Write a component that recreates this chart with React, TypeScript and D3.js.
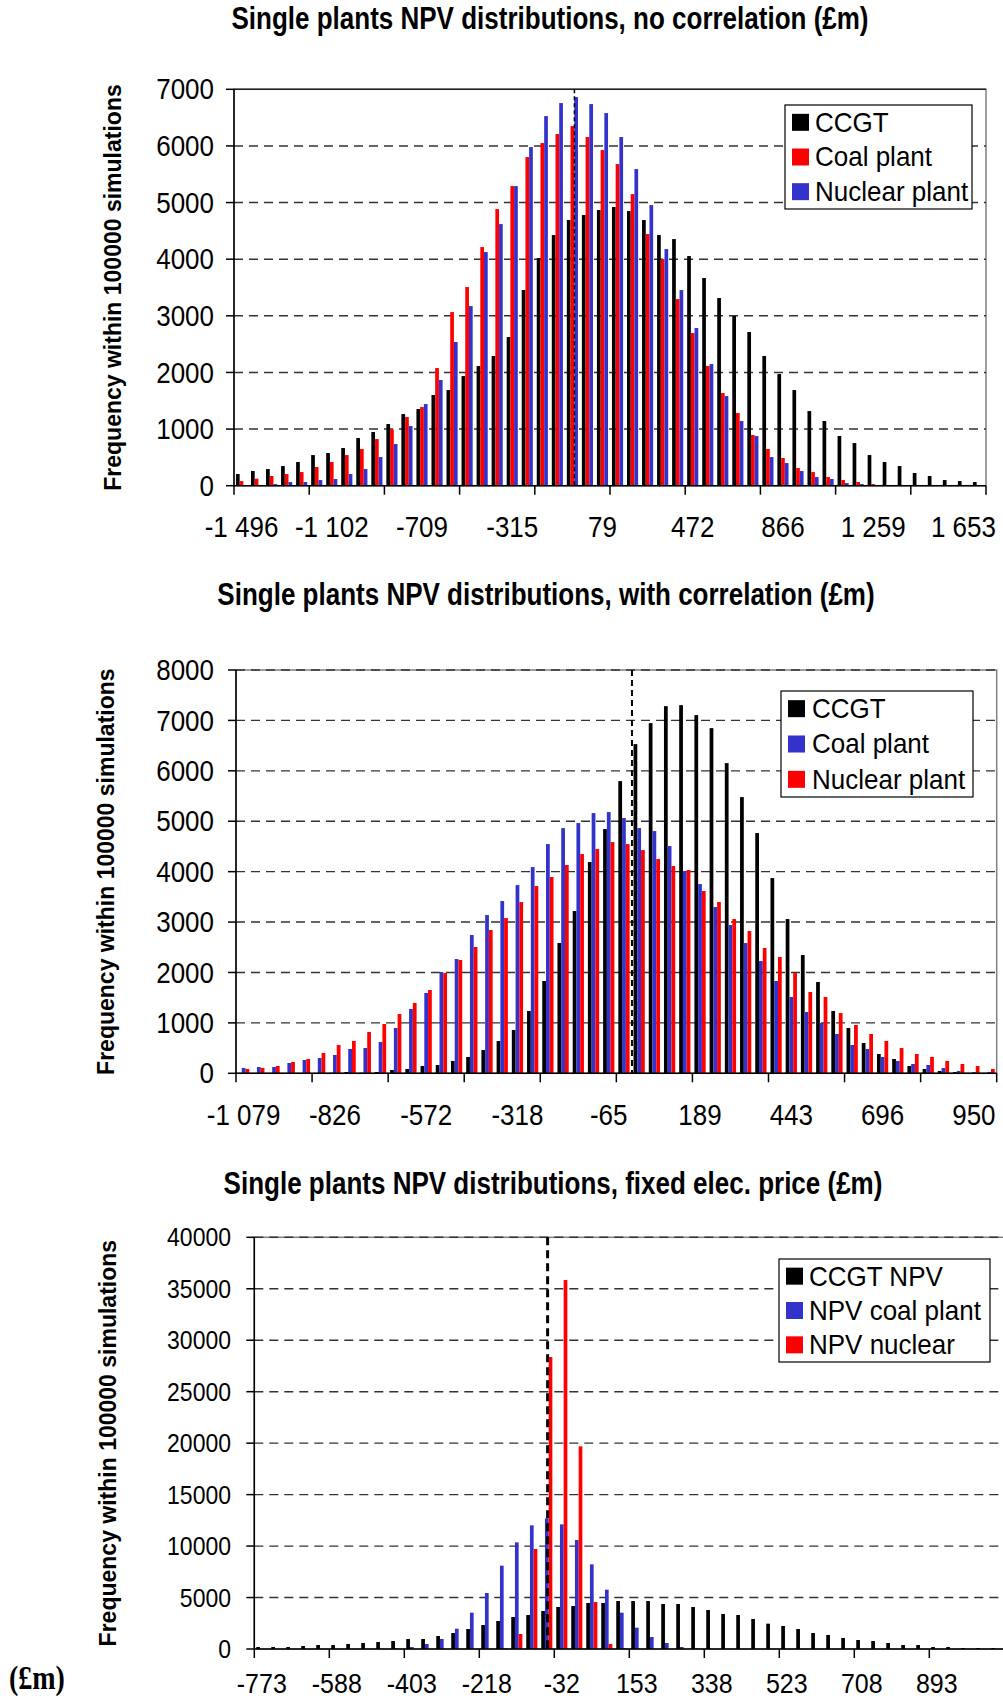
import React from 'react';
import * as d3 from 'd3';

const W = 1003;
const H = 1701;
const FONT = '"Liberation Sans", Arial, sans-serif';

const BLACK = '#000000';
const RED = '#FF0000';
const BLUE = '#3333CC';

// ---- Panel 1: no correlation (bins of ~65.6 £m starting at -1496) ----
const noCorrStart = -1496;
const noCorrStep = 65.6;
const noCorrTickLabels = ['-1 496', '-1 102', '-709', '-315', '79', '472', '866', '1 259', '1 653'];
const noCorrCCGT = [206, 259, 294, 347, 418, 541, 577, 665, 842, 948, 1089, 1265, 1354, 1601, 1689, 1936, 2113, 2290, 2625, 3455, 4020, 4426, 4691, 4779, 4868, 4921, 4850, 4691, 4426, 4355, 4055, 3667, 3314, 2996, 2713, 2290, 1972, 1689, 1318, 1142, 877, 753, 541, 418, 347, 224, 171, 100, 82, 65];
const noCorrCoal = [82, 124, 171, 206, 241, 330, 418, 541, 647, 824, 995, 1212, 1389, 2078, 3066, 3508, 4214, 4885, 5291, 5803, 6051, 6210, 6351, 6157, 5927, 5680, 5150, 4444, 4002, 3296, 2696, 2113, 1636, 1283, 895, 647, 489, 312, 241, 153, 100, 65, 29, 6, 2, 1, 0, 0, 0, 0];
const noCorrNuclear = [3, 5, 29, 65, 65, 100, 118, 206, 294, 506, 736, 1054, 1442, 1866, 2537, 3172, 4126, 4620, 5291, 5980, 6527, 6757, 6863, 6739, 6580, 6157, 5591, 4956, 4179, 3455, 2784, 2148, 1583, 1142, 877, 506, 400, 259, 153, 118, 47, 29, 6, 3, 1, 0, 0, 0, 0, 0];
const noCorrMarker = -44;

// ---- Panel 2: with correlation (bins of ~42.3 £m starting at -1079) ----
const corrStart = -1079;
const corrStep = 42.27;
const corrTickLabels = ['-1 079', '-826', '-572', '-318', '-65', '189', '443', '696', '950'];
const corrCCGT = [0, 0, 0, 0, 0, 5, 10, 26, 10, 26, 66, 86, 145, 165, 245, 324, 463, 641, 859, 1236, 1831, 2584, 3219, 4190, 4845, 5796, 6530, 6946, 7283, 7303, 7105, 6847, 6153, 5479, 4765, 3873, 3060, 2346, 1811, 1236, 899, 601, 383, 284, 145, 86, 46, 26, 5, 0];
const corrCoal = [106, 126, 126, 205, 264, 304, 364, 482, 502, 621, 899, 1276, 1593, 2009, 2267, 2743, 3139, 3417, 3734, 4091, 4547, 4864, 4964, 5162, 5182, 5063, 4864, 4805, 4508, 4012, 3754, 3298, 2941, 2584, 2227, 1831, 1514, 1216, 998, 780, 562, 482, 324, 245, 185, 165, 106, 46, 26, 26];
const corrNuclear = [86, 106, 145, 225, 284, 403, 562, 641, 820, 978, 1176, 1395, 1652, 1989, 2247, 2505, 2842, 3080, 3397, 3714, 3893, 4131, 4349, 4448, 4587, 4547, 4428, 4250, 4111, 4032, 3615, 3397, 3060, 2822, 2485, 2307, 1989, 1613, 1514, 1196, 958, 780, 641, 502, 383, 324, 245, 185, 145, 86];
const corrMarker = 0;

// ---- Panel 3: fixed electricity price (bins of 37 £m starting at -773) ----
const fixedStart = -773;
const fixedStep = 37;
const fixedTickLabels = ['-773', '-588', '-403', '-218', '-32', '153', '338', '523', '708', '893'];
const fixedCCGT = [194, 194, 194, 291, 389, 389, 486, 583, 680, 777, 971, 971, 1263, 1554, 1943, 2332, 2720, 3109, 3303, 3692, 4080, 4177, 4469, 4469, 4663, 4663, 4663, 4372, 4372, 4080, 3789, 3400, 3303, 2915, 2461, 2235, 1943, 1554, 1360, 1069, 874, 777, 583, 389, 389, 194, 194, 97, 97, 97];
const fixedCoal = [0, 0, 0, 0, 0, 0, 0, 0, 30, 60, 194, 486, 971, 1975, 3530, 5440, 8096, 10363, 12015, 12694, 12111, 10589, 8225, 5764, 3530, 2073, 1166, 583, 194, 65, 30, 0, 0, 0, 0, 0, 0, 0, 0, 0, 0, 0, 0, 0, 0, 0, 0, 0, 0, 0];
const fixedNuclear = [0, 0, 0, 0, 0, 0, 0, 0, 0, 0, 0, 0, 0, 0, 0, 0, 65, 1457, 9715, 28368, 35848, 19689, 4566, 486, 65, 0, 0, 0, 0, 0, 0, 0, 0, 0, 0, 0, 0, 0, 0, 0, 0, 0, 0, 0, 0, 0, 0, 0, 0, 0];
const fixedMarker = -68;

const Y_TITLE = 'Frequency within 100000 simulations';

type Series = { name: string; color: string; values: number[] };

type PanelProps = {
  title: string;
  titleX: number;
  titleY: number;
  plot: { left: number; top: number; right: number; bottom: number };
  yMax: number;
  yStep: number;
  series: Series[];
  binStart: number;
  binStep: number;
  tickLabels: string[];
  labelEvery: number;
  tickEvery: number;
  marker: number;
  markerWidth: number;
  markerDash: string;
  legend: { x: number; y: number; w: number; h: number; textX: number };
  yTickSize: number;
  xTickSize: number;
  xTickStretch: number;
  yTickRight: number;
  xLabelY: number;
  yTitleX: number;
  topBorderSolid: boolean;
};

// Text drawn slightly taller than wide, as in the original printout.
function TallText(props: {
  x: number;
  y: number;
  sy: number;
  anchor?: 'start' | 'middle' | 'end';
  baseline?: string;
  size: number;
  weight?: string;
  family?: string;
  children: React.ReactNode;
}) {
  return (
    <text
      transform={`translate(${props.x},${props.y}) scale(1,${props.sy})`}
      textAnchor={props.anchor ?? 'start'}
      dominantBaseline={props.baseline ?? 'auto'}
      fontFamily={props.family ?? FONT}
      fontWeight={props.weight ?? 'normal'}
      fontSize={props.size}
    >
      {props.children}
    </text>
  );
}

function Panel(p: PanelProps) {
  const n = p.series[0].values.length;
  const cats = d3.range(n);
  const x = d3
    .scaleBand<number>()
    .domain(cats)
    .range([p.plot.left, p.plot.right])
    .paddingInner(0.26)
    .paddingOuter(0.13);
  const inner = d3
    .scaleBand<string>()
    .domain(p.series.map((s) => s.name))
    .range([0, x.bandwidth()]);
  const y = d3.scaleLinear().domain([0, p.yMax]).range([p.plot.bottom, p.plot.top]);
  const step = x.step();
  const centre = (i: number) => (x(i) as number) + x.bandwidth() / 2;
  const valueX = d3
    .scaleLinear()
    .domain([p.binStart, p.binStart + p.binStep * (n - 1)])
    .range([centre(0), centre(n - 1)]);
  const yTicks = d3.range(0, p.yMax + 1, p.yStep);
  const tickIdx = d3.range(0, n + 1, p.tickEvery);
  const boundary = (i: number) => p.plot.left + i * step;
  const plotH = p.plot.bottom - p.plot.top;
  const legendRowH = p.legend.h / p.series.length;

  return (
    <g>
      <TallText x={p.titleX} y={p.titleY} sy={1.22} anchor="middle" size={26} weight="bold">
        {p.title}
      </TallText>

      {/* plot frame */}
      <rect
        x={p.plot.left}
        y={p.plot.top}
        width={p.plot.right - p.plot.left}
        height={plotH}
        fill="none"
        stroke="#808080"
        strokeWidth={1.5}
      />
      {p.topBorderSolid && (
        <line x1={p.plot.left} x2={p.plot.right} y1={p.plot.top} y2={p.plot.top} stroke="#222" strokeWidth={1.5} />
      )}

      {/* horizontal gridlines */}
      {yTicks
        .filter((t) => t > 0 && !(p.topBorderSolid && t === p.yMax))
        .map((t) => (
          <line
            key={'g' + t}
            x1={p.plot.left}
            x2={p.plot.right}
            y1={y(t)}
            y2={y(t)}
            stroke="#333"
            strokeWidth={1.4}
            strokeDasharray="9,6"
          />
        ))}

      {/* bars */}
      {p.series.map((s) => (
        <g key={s.name} fill={s.color}>
          {s.values.map((v, i) =>
            v > 0 ? (
              <rect
                key={i}
                x={(x(i) as number) + (inner(s.name) as number)}
                y={y(v)}
                width={inner.bandwidth()}
                height={y(0) - y(v)}
              />
            ) : null
          )}
        </g>
      ))}

      {/* reference line */}
      <line
        x1={valueX(p.marker)}
        x2={valueX(p.marker)}
        y1={p.plot.top}
        y2={p.plot.bottom}
        stroke="#000"
        strokeWidth={p.markerWidth}
        strokeDasharray={p.markerDash}
      />

      {/* y axis */}
      <line x1={p.plot.left} x2={p.plot.left} y1={p.plot.top} y2={p.plot.bottom} stroke="#000" strokeWidth={1.5} />
      {yTicks.map((t) => (
        <g key={'yt' + t}>
          <line x1={p.plot.left - 8} x2={p.plot.left} y1={y(t)} y2={y(t)} stroke="#000" strokeWidth={1.5} />
          <TallText x={p.yTickRight} y={y(t)} sy={1.15} anchor="end" baseline="central" size={p.yTickSize}>
            {t}
          </TallText>
        </g>
      ))}
      <text
        transform={`translate(${p.yTitleX},${(p.plot.top + p.plot.bottom) / 2}) rotate(-90)`}
        textAnchor="middle"
        dominantBaseline="central"
        fontFamily={FONT}
        fontWeight="bold"
        fontSize={23}
      >
        {Y_TITLE}
      </text>

      {/* x axis */}
      <line x1={p.plot.left} x2={p.plot.right} y1={p.plot.bottom} y2={p.plot.bottom} stroke="#000" strokeWidth={1.5} />
      {tickIdx.map((i) => (
        <line
          key={'xt' + i}
          x1={boundary(i)}
          x2={boundary(i)}
          y1={p.plot.bottom}
          y2={p.plot.bottom + 9}
          stroke="#000"
          strokeWidth={1.5}
        />
      ))}
      {p.tickLabels.map((lab, k) => (
        <TallText
          key={'xl' + k}
          x={centre(k * p.labelEvery)}
          y={p.xLabelY}
          sy={p.xTickStretch}
          anchor="middle"
          size={p.xTickSize}
        >
          {lab}
        </TallText>
      ))}

      {/* legend */}
      <rect
        x={p.legend.x}
        y={p.legend.y}
        width={p.legend.w}
        height={p.legend.h}
        fill="#fff"
        stroke="#000"
        strokeWidth={1.2}
      />
      {p.series.map((s, k) => {
        const cy = p.legend.y + legendRowH * (k + 0.5);
        return (
          <g key={'lg' + s.name}>
            <rect x={p.legend.x + 7} y={cy - 8.5} width={17} height={17} fill={s.color} />
            <TallText x={p.legend.textX} y={cy} sy={1.08} baseline="central" size={26}>
              {s.name}
            </TallText>
          </g>
        );
      })}
    </g>
  );
}

export default function App() {
  return (
    <svg
      width={W}
      height={H}
      viewBox={`0 0 ${W} ${H}`}
      style={{ position: 'absolute', left: 0, top: 0, display: 'block', background: '#fff' }}
    >
      <rect x={0} y={0} width={W} height={H} fill="#fff" />
      <Panel
        title="Single plants NPV distributions, no correlation (£m)"
        titleX={550}
        titleY={29}
        plot={{ left: 234, top: 89.3, right: 986, bottom: 485.7 }}
        yMax={7000}
        yStep={1000}
        series={[
          { name: 'CCGT', color: BLACK, values: noCorrCCGT },
          { name: 'Coal plant', color: RED, values: noCorrCoal },
          { name: 'Nuclear plant', color: BLUE, values: noCorrNuclear },
        ]}
        binStart={noCorrStart}
        binStep={noCorrStep}
        tickLabels={noCorrTickLabels}
        labelEvery={6}
        tickEvery={5}
        marker={noCorrMarker}
        markerWidth={1.5}
        markerDash="4,3"
        legend={{ x: 785, y: 105, w: 187, h: 104, textX: 815 }}
        yTickSize={26}
        xTickSize={26}
        xTickStretch={1.15}
        yTickRight={214}
        xLabelY={537}
        yTitleX={113}
        topBorderSolid={true}
      />
      <Panel
        title="Single plants NPV distributions, with correlation (£m)"
        titleX={546}
        titleY={605}
        plot={{ left: 236, top: 670, right: 996.7, bottom: 1073.3 }}
        yMax={8000}
        yStep={1000}
        series={[
          { name: 'CCGT', color: BLACK, values: corrCCGT },
          { name: 'Coal plant', color: BLUE, values: corrCoal },
          { name: 'Nuclear plant', color: RED, values: corrNuclear },
        ]}
        binStart={corrStart}
        binStep={corrStep}
        tickLabels={corrTickLabels}
        labelEvery={6}
        tickEvery={5}
        marker={corrMarker}
        markerWidth={2}
        markerDash="6,4"
        legend={{ x: 781, y: 691, w: 192, h: 106, textX: 812 }}
        yTickSize={26}
        xTickSize={26}
        xTickStretch={1.15}
        yTickRight={214}
        xLabelY={1125}
        yTitleX={106}
        topBorderSolid={false}
      />
      <Panel
        title="Single plants NPV distributions, fixed elec. price (£m)"
        titleX={553}
        titleY={1194}
        plot={{ left: 254.3, top: 1237.3, right: 1004.3, bottom: 1649 }}
        yMax={40000}
        yStep={5000}
        series={[
          { name: 'CCGT NPV', color: BLACK, values: fixedCCGT },
          { name: 'NPV coal plant', color: BLUE, values: fixedCoal },
          { name: 'NPV nuclear', color: RED, values: fixedNuclear },
        ]}
        binStart={fixedStart}
        binStep={fixedStep}
        tickLabels={fixedTickLabels}
        labelEvery={5}
        tickEvery={5}
        marker={fixedMarker}
        markerWidth={3}
        markerDash="8,5"
        legend={{ x: 779, y: 1259, w: 211, h: 103, textX: 809 }}
        yTickSize={23}
        xTickSize={25}
        xTickStretch={1.1}
        yTickRight={231}
        xLabelY={1693}
        yTitleX={108}
        topBorderSolid={false}
      />
      <TallText
        x={9}
        y={1689}
        sy={1.2}
        size={28}
        weight="bold"
        family='"Liberation Serif", "Times New Roman", serif'
      >
        (£m)
      </TallText>
    </svg>
  );
}
